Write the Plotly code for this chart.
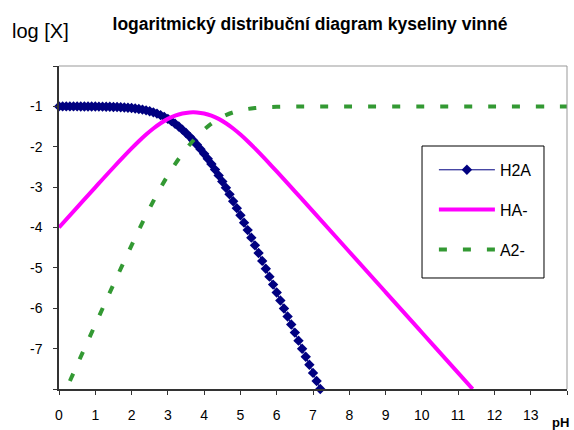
import plotly.graph_objects as go

# ---- data ----
ph_h2a = [0.0, 0.1, 0.2, 0.3, 0.4, 0.5, 0.6, 0.7, 0.8, 0.9,
          1.0, 1.1, 1.2, 1.3, 1.4, 1.5, 1.6, 1.7, 1.8, 1.9,
          2.0, 2.1, 2.2, 2.3, 2.4, 2.5, 2.6, 2.7, 2.8, 2.9,
          3.0, 3.1, 3.2, 3.3, 3.4, 3.5, 3.6, 3.7, 3.8, 3.9,
          4.0, 4.1, 4.2, 4.3, 4.4, 4.5, 4.6, 4.7, 4.8, 4.9,
          5.0, 5.1, 5.2, 5.3, 5.4, 5.5, 5.6, 5.7, 5.8, 5.9,
          6.0, 6.1, 6.2, 6.3, 6.4, 6.5, 6.6, 6.7, 6.8, 6.9,
          7.0, 7.1, 7.2]
log_h2a = [-1.000, -1.001, -1.001, -1.001, -1.001, -1.001, -1.002, -1.002, -1.003, -1.003,
           -1.004, -1.005, -1.007, -1.009, -1.011, -1.014, -1.017, -1.021, -1.027, -1.033,
           -1.042, -1.052, -1.064, -1.080, -1.098, -1.121, -1.148, -1.179, -1.217, -1.260,
           -1.310, -1.366, -1.429, -1.499, -1.576, -1.659, -1.749, -1.846, -1.949, -2.059,
           -2.176, -2.299, -2.429, -2.566, -2.710, -2.860, -3.017, -3.179, -3.348, -3.521,
           -3.698, -3.880, -4.064, -4.252, -4.442, -4.633, -4.827, -5.021, -5.217, -5.414,
           -5.611, -5.809, -6.007, -6.205, -6.404, -6.603, -6.803, -7.002, -7.202, -7.401,
           -7.601, -7.801, -8.000]

ph_ha = [0.0, 0.5, 1.0, 1.5, 2.0, 2.2, 2.4, 2.6, 2.8, 3.0, 3.2, 3.4, 3.6, 3.7, 3.8,
         4.0, 4.2, 4.4, 4.6, 4.8, 5.0, 5.2, 5.4, 5.6, 5.8, 6.0, 6.5, 7.0,
         8.0, 9.0, 10.0, 11.0, 11.4]
log_ha = [-4.000, -3.501, -3.004, -2.514, -2.042, -1.864, -1.698, -1.548, -1.417, -1.310,
          -1.229, -1.176, -1.149, -1.146, -1.149, -1.176, -1.229, -1.310, -1.417, -1.548,
          -1.698, -1.864, -2.042, -2.227, -2.417, -2.611, -3.103, -3.601,
          -4.600, -5.600, -6.600, -7.600, -8.000]

ph_a2 = [0.3, 0.5, 1.0, 1.5, 2.0, 2.2, 2.4, 2.6, 2.8, 3.0, 3.2, 3.4, 3.6, 3.8,
         4.0, 4.2, 4.4, 4.6, 4.8, 5.0, 5.2, 5.4, 5.6, 5.8, 6.0, 6.5, 7.0,
         8.0, 10.0, 12.0, 14.0]
log_a2 = [-7.801, -7.401, -6.404, -5.414, -4.442, -4.064, -3.698, -3.348, -3.017, -2.710,
          -2.429, -2.176, -1.949, -1.749, -1.576, -1.429, -1.310, -1.217, -1.148, -1.098,
          -1.064, -1.042, -1.027, -1.017, -1.011, -1.004, -1.001,
          -1.000, -1.000, -1.000, -1.000]

x_tickvals = list(range(0, 15))
x_ticktext = [str(v) for v in range(0, 14)] + [""]
y_tickvals = [-8, -7, -6, -5, -4, -3, -2, -1, 0]
y_ticktext = ["", "-7", "-6", "-5", "-4", "-3", "-2", "-1", ""]

title_text = "logaritmický distribuční diagram kyseliny vinné"
yaxis_label = "log [X]"
xaxis_label = "pH"

FONT = "Liberation Sans, Arial, sans-serif"

fig = go.Figure()
fig.add_trace(go.Scatter(
    x=ph_h2a, y=log_h2a, name="H2A", mode="lines+markers", legendgroup="a",
    line=dict(color="#000080", width=1),
    marker=dict(symbol="diamond", size=8, color="#000080"),
    cliponaxis=False))
fig.add_trace(go.Scatter(
    x=ph_ha, y=log_ha, name="HA-", mode="lines", legendgroup="b",
    line=dict(color="#FF00FF", width=4, shape="spline")))
fig.add_trace(go.Scatter(
    x=ph_a2, y=log_a2, name="A2-", mode="lines", legendgroup="c",
    line=dict(color="#339933", width=4, dash="8px,16px", shape="spline")))

axis_common = dict(showgrid=False, zeroline=False)

fig.update_layout(
    width=574, height=430,
    margin=dict(l=59, r=7, t=66, b=41),
    paper_bgcolor="white", plot_bgcolor="white",
    font=dict(family=FONT, color="black", size=13),
    showlegend=True,
    legend=dict(x=0.738, y=0.731, xanchor="left", yanchor="top",
                borderwidth=0, bgcolor="rgba(0,0,0,0)",
                font=dict(size=16, family=FONT), tracegroupgap=16,
                itemwidth=56),
    title=dict(text="<b>" + title_text + "</b>", x=0.54, xanchor="center",
               y=0.944, yanchor="middle", font=dict(size=17.5, family=FONT)),
    xaxis=dict(range=[0, 14], tickmode="array", tickvals=x_tickvals, ticktext=x_ticktext,
               ticks="outside", ticklen=4, tickcolor="#333", showline=True,
               linecolor="#333", linewidth=1.5, ticklabelstandoff=8,
               tickfont=dict(size=14), **axis_common),
    yaxis=dict(range=[-8, 0], tickmode="array", tickvals=y_tickvals, ticktext=y_ticktext,
               ticks="outside", ticklen=4, tickcolor="#333", showline=True,
               linecolor="#333", linewidth=1.5, ticklabelstandoff=8,
               tickfont=dict(size=14), **axis_common),
    xaxis2=dict(range=[0, 14], overlaying="x", anchor="y", side="bottom",
                tickmode="array", tickvals=x_tickvals, ticks="inside", ticklen=4,
                tickcolor="#333", showticklabels=False, showline=False, **axis_common),
    yaxis2=dict(range=[-8, 0], overlaying="y", anchor="x", side="left",
                tickmode="array", tickvals=y_tickvals, ticks="inside", ticklen=4,
                tickcolor="#333", showticklabels=False, showline=False, **axis_common),
)

# top and right frame of the plot area
fig.add_shape(type="line", xref="paper", yref="paper", x0=0, x1=1, y0=1, y1=1,
              line=dict(color="#999999", width=1))
fig.add_shape(type="line", xref="paper", yref="paper", x0=1, x1=1, y0=0, y1=1,
              line=dict(color="#999999", width=1))
# legend frame
fig.add_shape(type="rect", xref="paper", yref="paper",
              x0=0.7146, x1=0.9547, y0=0.3437, y1=0.7523,
              line=dict(color="black", width=1), fillcolor="white", layer="above")

fig.add_annotation(text=yaxis_label, xref="paper", yref="paper", x=-0.0965, y=1.108,
                   xanchor="left", yanchor="middle", showarrow=False,
                   font=dict(size=20, family=FONT))
fig.add_annotation(text="<b>" + xaxis_label + "</b>", xref="paper", yref="paper",
                   x=0.988, y=-0.105, xanchor="center", yanchor="middle",
                   showarrow=False, font=dict(size=13, family=FONT))

fig.write_html("out.html")
